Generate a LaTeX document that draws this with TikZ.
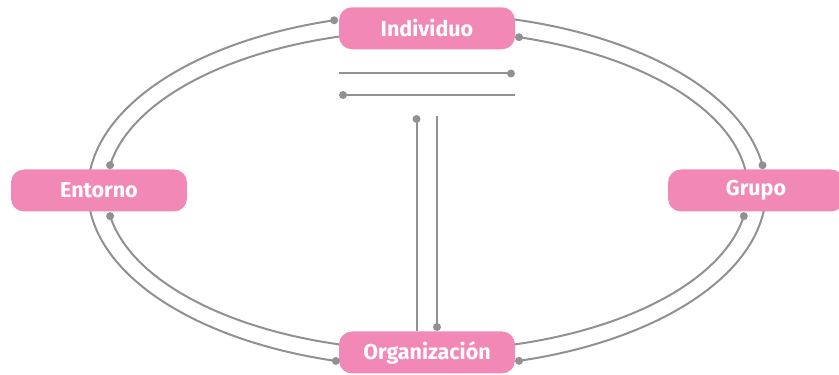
\documentclass[tikz,border=0pt]{standalone}
\usepackage{fontspec}
\setmainfont{Fira Sans}
\definecolor{boxpink}{RGB}{242,136,181}
\definecolor{linegray}{RGB}{145,145,148}
\tikzset{
	box/.style={fill=boxpink, rounded corners=13pt, minimum width=176pt, minimum height=42pt,
		inner sep=0pt, text=white, font=\fontsize{21.5}{24}\selectfont\bfseries},
	link/.style={draw=linegray, line width=2pt},
	knob/.style={fill=linegray},
}
\begin{document}
\begin{tikzpicture}[x=1pt,y=1pt]
		\useasboundingbox (0,0) rectangle (839,375);
		\clip (0,0) rectangle (839,375);
		\coordinate (mid) at (427,184.5);
		
		% Outer ring
		\draw[link] (mid) ++(105.9:339pt and 177pt) coordinate (o1) arc[start angle=105.9, end angle=180, x radius=339pt, y radius=177pt];
		\draw[link] (mid) ++(90:339pt and 177pt) arc[start angle=90, end angle=8.2, x radius=339pt, y radius=177pt] coordinate (o2);
		\draw[link] (mid) ++(0:339pt and 177pt) arc[start angle=0, end angle=-74.25, x radius=339pt, y radius=177pt] coordinate (o3);
		\draw[link] (mid) ++(180:339pt and 177pt) arc[start angle=180, end angle=254.4, x radius=339pt, y radius=177pt] coordinate (o4);
		
		% Inner ring
		\draw[link] (mid) ++(90:321pt and 160pt) arc[start angle=90, end angle=170.9, x radius=321pt, y radius=160pt] coordinate (i1);
		\draw[link] (mid) ++(73.35:321pt and 160pt) coordinate (i2) arc[start angle=73.35, end angle=0, x radius=321pt, y radius=160pt];
		\draw[link] (mid) ++(-9.2:321pt and 160pt) coordinate (i3) arc[start angle=-9.2, end angle=-90, x radius=321pt, y radius=160pt];
		\draw[link] (mid) ++(189.2:321pt and 160pt) coordinate (i4) arc[start angle=189.2, end angle=270, x radius=321pt, y radius=160pt];
		
		% Boxes
		\node[box] (indiv) at (427,346.7) {Individuo};
		\node[box] (entorno) at (99,184.5) {Entorno};
		\node[box] (grupo) at (756,184.5) {Grupo};
		\node[box] (org) at (427,22.5) {Organización};
		
		% Ring knobs
		\foreach \k in {o1,o2,o3,o4,i1,i2,i3,i4}
			\fill[knob] (\k) circle (4pt);
		
		% Middle bars
		\coordinate (barA) at (339,301.5);
		\coordinate (barAend) at (511,301.5);
		\coordinate (barB) at (343,280);
		\coordinate (barBend) at (515,280);
		\coordinate (barC) at (416.5,256);
		\coordinate (barD) at (437,259);
		\coordinate (barDend) at (437,48);
		\draw[link] (barA) -- (barAend);
		\draw[link] (barB) -- (barBend);
		\draw[link] (barC) -- (barC |- org.north);
		\draw[link] (barD) -- (barDend);
		\fill[knob] (barAend) circle (4pt);
		\fill[knob] (barB) circle (4pt);
		\fill[knob] (barC) circle (4pt);
		\fill[knob] (barDend) circle (4pt);
	\end{tikzpicture}
\end{document}
